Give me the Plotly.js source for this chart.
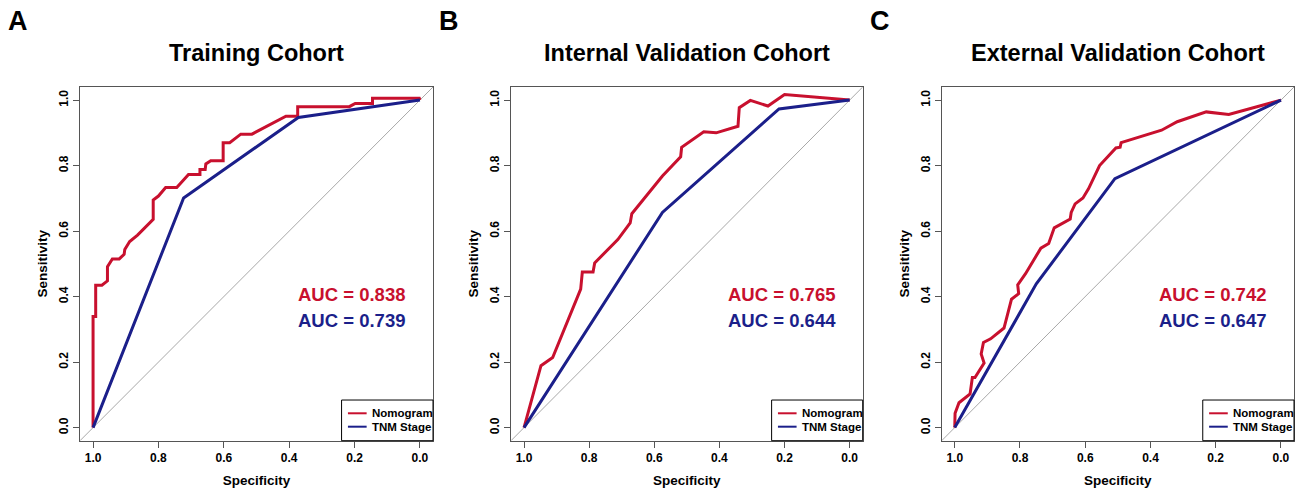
<!DOCTYPE html>
<html>
<head>
<meta charset="utf-8">
<script src="https://cdn.plot.ly/plotly-3.0.1.min.js"></script>
<style>
  html, body { margin: 0; padding: 0; background: #ffffff; }
  #chart { width: 1298px; height: 488px; }
</style>
</head>
<body>
<div id="chart"></div>
<script>
// ---------- Data ----------
const panelLetters = ["A", "B", "C"];
const panelTitles = ["Training Cohort", "Internal Validation Cohort", "External Validation Cohort"];
const seriesNames = ["Nomogram", "TNM Stage"];
const aucNomogram = ["0.838", "0.765", "0.742"];
const aucTNM = ["0.739", "0.644", "0.647"];
const tickValues = [0, 0.2, 0.4, 0.6, 0.8, 1.0];
const tickLabels = ["0.0", "0.2", "0.4", "0.6", "0.8", "1.0"];
const diagSpec = [1.04, -0.04];
const diagSens = [-0.04, 1.04];

// Training cohort
const trainNomoSpec = [1.0, 1.0, 0.992, 0.992, 0.973, 0.956, 0.956, 0.941, 0.920, 0.905, 0.903, 0.888, 0.864, 0.816, 0.816, 0.800, 0.778, 0.744, 0.708, 0.673, 0.673, 0.657, 0.655, 0.640, 0.602, 0.602, 0.582, 0.548, 0.514, 0.410, 0.374, 0.374, 0.216, 0.198, 0.145, 0.145, 0.002, 0.0];
const trainNomoSens = [0.0, 0.339, 0.339, 0.435, 0.435, 0.448, 0.491, 0.515, 0.515, 0.529, 0.544, 0.568, 0.588, 0.636, 0.695, 0.707, 0.733, 0.733, 0.773, 0.773, 0.788, 0.788, 0.805, 0.815, 0.815, 0.870, 0.870, 0.896, 0.896, 0.951, 0.951, 0.980, 0.980, 0.990, 0.990, 1.006, 1.006, 1.0];
const trainTNMSpec = [1.0, 0.723, 0.372, 0.0];
const trainTNMSens = [0.0, 0.701, 0.947, 1.0];

// Internal validation cohort
const intNomoSpec = [1.0, 0.948, 0.912, 0.826, 0.821, 0.788, 0.783, 0.712, 0.674, 0.669, 0.575, 0.519, 0.516, 0.448, 0.410, 0.343, 0.339, 0.305, 0.251, 0.200, 0.0];
const intNomoSens = [0.0, 0.189, 0.214, 0.423, 0.475, 0.475, 0.503, 0.574, 0.625, 0.653, 0.768, 0.827, 0.856, 0.903, 0.900, 0.920, 0.977, 0.999, 0.982, 1.017, 1.0];
const intTNMSpec = [1.0, 0.575, 0.217, 0.0];
const intTNMSens = [0.0, 0.657, 0.973, 1.0];

// External validation cohort
const extNomoSpec = [1.0, 0.999, 0.987, 0.953, 0.946, 0.938, 0.910, 0.919, 0.912, 0.890, 0.849, 0.826, 0.804, 0.807, 0.783, 0.736, 0.712, 0.695, 0.646, 0.643, 0.631, 0.607, 0.590, 0.556, 0.506, 0.493, 0.490, 0.453, 0.366, 0.318, 0.229, 0.160, 0.0];
const extNomoSens = [0.0, 0.044, 0.076, 0.103, 0.153, 0.153, 0.197, 0.225, 0.260, 0.271, 0.304, 0.392, 0.409, 0.436, 0.470, 0.548, 0.562, 0.610, 0.637, 0.657, 0.683, 0.701, 0.729, 0.800, 0.854, 0.856, 0.870, 0.882, 0.908, 0.934, 0.964, 0.956, 1.0];
const extTNMSpec = [1.0, 0.750, 0.509, 0.0];
const extTNMSens = [0.0, 0.439, 0.760, 1.0];

// ---------- Styling ----------
const RED = "#C8102E";
const BLUE = "#1B1F8A";
const FONT = "Liberation Sans, Arial, Helvetica, sans-serif";
const W = 1298, H = 488;

const xDomains = [[80 / W, 433 / W], [511 / W, 862.7 / W], [941.7 / W, 1294 / W]];
const yDomain = [(H - 440.7) / H, (H - 87) / H];

const nomoSpec = [trainNomoSpec, intNomoSpec, extNomoSpec];
const nomoSens = [trainNomoSens, intNomoSens, extNomoSens];
const tnmSpec = [trainTNMSpec, intTNMSpec, extTNMSpec];
const tnmSens = [trainTNMSens, intTNMSens, extTNMSens];
const seriesColors = [RED, BLUE];

const traces = [];
const layout = {
  width: W, height: H,
  margin: {l: 0, r: 0, t: 0, b: 0},
  paper_bgcolor: "#ffffff",
  plot_bgcolor: "#ffffff",
  font: {family: FONT, color: "#000000"},
  showlegend: false,
  annotations: [],
  shapes: [],
};

for (let i = 0; i < 3; i++) {
  const sfx = i === 0 ? "" : String(i + 1);
  const xa = "x" + sfx, ya = "y" + sfx;

  traces.push({
    x: diagSpec, y: diagSens, xaxis: xa, yaxis: ya,
    mode: "lines", line: {color: "#A8A8A8", width: 1},
    showlegend: false, hoverinfo: "skip"
  });
  traces.push({
    x: nomoSpec[i], y: nomoSens[i], xaxis: xa, yaxis: ya,
    mode: "lines", name: seriesNames[0], showlegend: false,
    line: {color: RED, width: 3}
  });
  traces.push({
    x: tnmSpec[i], y: tnmSens[i], xaxis: xa, yaxis: ya,
    mode: "lines", name: seriesNames[1], showlegend: false,
    line: {color: BLUE, width: 3}
  });

  const axCommon = {
    showgrid: false, zeroline: false,
    showline: true, mirror: true, linecolor: "#555555", linewidth: 1,
    ticks: "outside", ticklen: 6, tickcolor: "#555555", tickwidth: 1,
    tickvals: tickValues, ticktext: tickLabels,
    tickfont: {family: FONT, size: 12, color: "#000000", weight: "bold"},
    fixedrange: true
  };

  layout["xaxis" + sfx] = Object.assign({}, axCommon, {
    domain: xDomains[i], anchor: ya,
    range: [1.04, -0.04],
    title: {text: "Specificity", font: {family: FONT, size: 13.5, weight: "bold"}, standoff: 11}
  });
  layout["yaxis" + sfx] = Object.assign({}, axCommon, {
    domain: yDomain, anchor: xa,
    range: [-0.04, 1.04],
    tickangle: -90,
    title: {text: "Sensitivity", font: {family: FONT, size: 13.5, weight: "bold"}, standoff: 6}
  });

  // Legend box (R-style, bottom-right of the plot box)
  layout.shapes.push({
    type: "rect", xref: xa + " domain", yref: ya + " domain",
    x0: 0.741, x1: 1.0, y0: 0.0, y1: 0.115,
    line: {color: "#000000", width: 1}, fillcolor: "#ffffff", layer: "above"
  });
  const legRows = [0.0775, 0.0396];
  for (let s = 0; s < 2; s++) {
    layout.shapes.push({
      type: "line", xref: xa + " domain", yref: ya + " domain",
      x0: 0.759, x1: 0.812, y0: legRows[s], y1: legRows[s],
      line: {color: seriesColors[s], width: 2}, layer: "above"
    });
    layout.annotations.push({
      text: seriesNames[s], xref: xa + " domain", yref: ya + " domain",
      x: 0.822, y: legRows[s], xanchor: "left", yanchor: "middle",
      showarrow: false, font: {family: FONT, size: 11.5, weight: "bold", color: "#000000"}
    });
  }

  const xc = (xDomains[i][0] + xDomains[i][1]) / 2;
  layout.annotations.push({
    text: panelTitles[i], xref: "paper", yref: "paper",
    x: xc, y: (H - 53) / H, xanchor: "center", yanchor: "middle",
    showarrow: false, font: {family: FONT, size: 23.5, weight: "bold", color: "#000000"}
  });
  layout.annotations.push({
    text: panelLetters[i], xref: "paper", yref: "paper",
    x: xDomains[i][0] - 62 / W, y: (H - 21) / H, xanchor: "center", yanchor: "middle",
    showarrow: false, font: {family: FONT, size: 27, weight: "bold", color: "#000000"}
  });
  layout.annotations.push({
    text: "AUC = " + aucNomogram[i], xref: xa + " domain", yref: ya + " domain",
    x: 0.77, y: 0.414, xanchor: "center", yanchor: "middle",
    showarrow: false, font: {family: FONT, size: 18.5, weight: "bold", color: RED}
  });
  layout.annotations.push({
    text: "AUC = " + aucTNM[i], xref: xa + " domain", yref: ya + " domain",
    x: 0.77, y: 0.339, xanchor: "center", yanchor: "middle",
    showarrow: false, font: {family: FONT, size: 18.5, weight: "bold", color: BLUE}
  });
}

Plotly.newPlot("chart", traces, layout, {displayModeBar: false, staticPlot: true});
</script>
</body>
</html>
